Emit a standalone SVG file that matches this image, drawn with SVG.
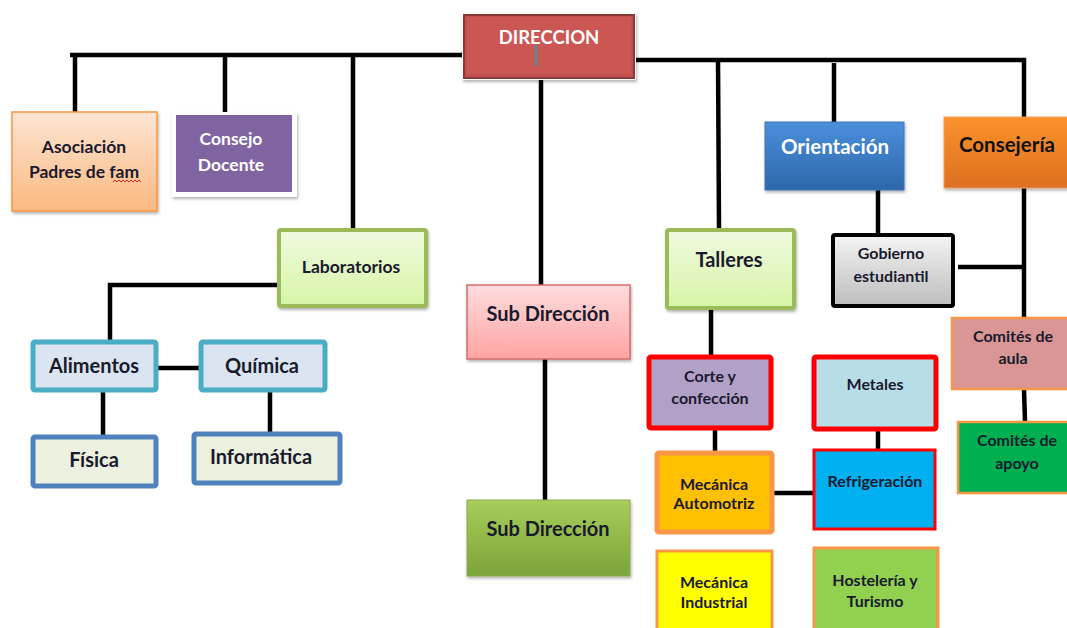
<svg xmlns="http://www.w3.org/2000/svg" width="1067" height="628" viewBox="0 0 1067 628">
<style>
text{font-family:Lato,"Liberation Sans",sans-serif;font-weight:bold;text-anchor:middle;fill:#1a1a2e}
.w{fill:#ffffff}
.conn line,.conn polyline{stroke:#000;stroke-width:4.5;fill:none}
.s13{font-size:16px}.s15{font-size:17.5px}.s17{font-size:20px}.s18{font-size:20.5px}
</style>
<defs>
<linearGradient id="gOr" x1="0" y1="0" x2="0" y2="1"><stop offset="0" stop-color="#fde5d3"/><stop offset="1" stop-color="#fbb980"/></linearGradient>
<linearGradient id="gLg" x1="0" y1="0" x2="0" y2="1"><stop offset="0" stop-color="#f0fadf"/><stop offset="1" stop-color="#d6f5a6"/></linearGradient>
<linearGradient id="gPk" x1="0" y1="0" x2="0" y2="1"><stop offset="0" stop-color="#ffdcdc"/><stop offset="1" stop-color="#ffa3a3"/></linearGradient>
<linearGradient id="gGr" x1="0" y1="0" x2="0" y2="1"><stop offset="0" stop-color="#a8cd5a"/><stop offset="1" stop-color="#7da43a"/></linearGradient>
<linearGradient id="gBl" x1="0" y1="0" x2="0" y2="1"><stop offset="0" stop-color="#4a8fdc"/><stop offset="1" stop-color="#2d67aa"/></linearGradient>
<linearGradient id="gCo" x1="0" y1="0" x2="0" y2="1"><stop offset="0" stop-color="#fb922c"/><stop offset="1" stop-color="#dd7020"/></linearGradient>
<linearGradient id="gGy" x1="0" y1="0" x2="0" y2="1"><stop offset="0" stop-color="#f4f4f4"/><stop offset="1" stop-color="#bdbdbd"/></linearGradient>
<filter id="sh" x="-10%" y="-10%" width="125%" height="130%"><feDropShadow dx="1" dy="2" stdDeviation="1.5" flood-color="#000" flood-opacity="0.3"/></filter>
</defs>

<g class="conn" id="connectors">
<polyline points="70,55 462,55"/>
<line x1="75" y1="53" x2="75" y2="112"/>
<line x1="225" y1="53" x2="225" y2="112"/>
<line x1="353" y1="53" x2="353" y2="228"/>
<polyline points="636,60 1024,60 1024,117"/>
<line x1="718" y1="58" x2="719" y2="228"/>
<line x1="834" y1="63" x2="834" y2="122"/>
<line x1="541" y1="80" x2="541" y2="285"/>
<polyline points="280,285 110,285 110,340"/>
<line x1="157" y1="368" x2="199" y2="368"/>
<line x1="103" y1="391" x2="103" y2="435"/>
<line x1="270" y1="391" x2="270" y2="432"/>
<line x1="545" y1="359" x2="545" y2="500"/>
<line x1="711" y1="309" x2="711" y2="355"/>
<line x1="715" y1="429" x2="715" y2="452"/>
<line x1="773" y1="493" x2="814" y2="493"/>
<line x1="878" y1="430" x2="878" y2="449"/>
<line x1="878" y1="190" x2="878" y2="234"/>
<line x1="958" y1="267" x2="1024" y2="267"/>
<line x1="1024" y1="188" x2="1024" y2="317"/>
<line x1="1024" y1="389" x2="1025" y2="422"/>
</g>

<g id="direccion">
<rect x="462" y="13" width="174" height="67" fill="#fff" filter="url(#sh)"/>
<rect x="464" y="15" width="170" height="63" fill="#c0504d" stroke="#8c3836" stroke-width="2"/>
<rect x="467" y="17" width="164" height="57" fill="#cc5654"/>
<text class="w" style="font-size:18.5px" x="549" y="43.5">DIRECCION</text>
<rect x="535" y="45" width="2" height="21" fill="#31a0a8"/>
</g>

<g id="asociacion">
<rect x="12" y="112" width="145" height="99" fill="url(#gOr)" stroke="#f79646" stroke-width="1.5" filter="url(#sh)"/>
<text class="s15" x="84" y="153">Asociación</text>
<text class="s15" x="84" y="178">Padres de fam</text>
<path d="M113,182 l2,-2 l2,2 l2,-2 l2,2 l2,-2 l2,2 l2,-2 l2,2 l2,-2 l2,2 l2,-2 l2,2 l2,-2 l2,2" stroke="#e02020" stroke-width="1" fill="none"/>
</g>

<g id="consejo">
<rect x="172" y="112" width="125" height="85" fill="#fff" filter="url(#sh)"/>
<rect x="176" y="115" width="116" height="77" fill="#8064a2"/>
<text class="w s15" x="231" y="145">Consejo</text>
<text class="w s15" x="231" y="171">Docente</text>
</g>

<g id="laboratorios">
<rect x="279" y="230" width="147" height="76" rx="2" fill="url(#gLg)" stroke="#9bbb59" stroke-width="4" filter="url(#sh)"/>
<text class="s15" x="351" y="273">Laboratorios</text>
</g>

<g id="alimentos">
<rect x="33" y="342" width="123" height="48" rx="2" fill="#dbe5f1" stroke="#4bacc6" stroke-width="5"/>
<text class="s17" x="94" y="373">Alimentos</text>
</g>
<g id="quimica">
<rect x="201" y="342" width="124" height="48" rx="2" fill="#dbe5f1" stroke="#4bacc6" stroke-width="5"/>
<text class="s17" x="262" y="373">Química</text>
</g>
<g id="fisica">
<rect x="33" y="437" width="123" height="49" rx="2" fill="#ebf1de" stroke="#4f81bd" stroke-width="5"/>
<text class="s17" x="94" y="467">Física</text>
</g>
<g id="informatica">
<rect x="194" y="434" width="146" height="49" rx="2" fill="#ebf1de" stroke="#4f81bd" stroke-width="5"/>
<text class="s17" x="261" y="464">Informática</text>
</g>

<g id="subdireccion1">
<rect x="467" y="285" width="163" height="74" fill="url(#gPk)" stroke="#d06d6b" stroke-width="1.5" filter="url(#sh)"/>
<text class="s17" x="548" y="321">Sub Dirección</text>
</g>
<g id="subdireccion2">
<rect x="467" y="500" width="163" height="76" fill="url(#gGr)" stroke="#8aaa4a" stroke-width="1" filter="url(#sh)"/>
<text class="s17" x="548" y="536">Sub Dirección</text>
</g>

<g id="talleres">
<rect x="667" y="230" width="127" height="78" rx="2" fill="url(#gLg)" stroke="#9bbb59" stroke-width="4" filter="url(#sh)"/>
<text class="s17" x="729" y="267">Talleres</text>
</g>
<g id="corte">
<rect x="649" y="357" width="122" height="71" rx="2" fill="#b2a1c7" stroke="#ff0000" stroke-width="5"/>
<text class="s13" x="710" y="382">Corte y</text>
<text class="s13" x="710" y="404">confección</text>
</g>
<g id="metales">
<rect x="814" y="357" width="122" height="72" rx="2" fill="#b7dde8" stroke="#ff0000" stroke-width="5"/>
<text class="s13" x="875" y="390">Metales</text>
</g>
<g id="mecautomotriz">
<rect x="657" y="453" width="115" height="79" rx="2" fill="#ffc000" stroke="#f79646" stroke-width="5"/>
<text class="s13" x="714" y="490">Mecánica</text>
<text class="s13" x="714" y="509">Automotriz</text>
</g>
<g id="refrigeracion">
<rect x="814" y="450" width="121" height="79" fill="#00b0f0" stroke="#ff0000" stroke-width="3"/>
<text class="s13" x="875" y="487">Refrigeración</text>
</g>
<g id="mecindustrial">
<rect x="657" y="551" width="115" height="80" fill="#ffff00" stroke="#f79646" stroke-width="3"/>
<text class="s13" x="714" y="588">Mecánica</text>
<text class="s13" x="714" y="608">Industrial</text>
</g>
<g id="hosteleria">
<rect x="814" y="548" width="124" height="83" fill="#92d050" stroke="#f79646" stroke-width="3"/>
<text class="s13" x="875" y="586">Hostelería y</text>
<text class="s13" x="875" y="607">Turismo</text>
</g>

<g id="orientacion">
<rect x="765" y="122" width="139" height="68" fill="url(#gBl)" stroke="#3a75b8" stroke-width="1" filter="url(#sh)"/>
<text class="w s18" x="835" y="154">Orientación</text>
</g>
<g id="gobierno">
<rect x="833" y="235" width="120" height="71" rx="2" fill="url(#gGy)" stroke="#000" stroke-width="4"/>
<text class="s13" x="891" y="259">Gobierno</text>
<text class="s13" x="891" y="282">estudiantil</text>
</g>
<g id="consejeria">
<rect x="944" y="117" width="125" height="71" fill="url(#gCo)" stroke="#f0a060" stroke-width="1" filter="url(#sh)"/>
<text class="s18" x="1007" y="152" style="fill:#111">Consejería</text>
</g>
<g id="comitesaula">
<rect x="952" y="318" width="117" height="71" fill="#d99694" stroke="#f79646" stroke-width="2.5"/>
<text class="s13" x="1013" y="342">Comités de</text>
<text class="s13" x="1013" y="364">aula</text>
</g>
<g id="comitesapoyo">
<rect x="958" y="422" width="111" height="71" fill="#00b050" stroke="#f79646" stroke-width="2.5"/>
<text class="s13" x="1017" y="446">Comités de</text>
<text class="s13" x="1017" y="469">apoyo</text>
</g>
</svg>
